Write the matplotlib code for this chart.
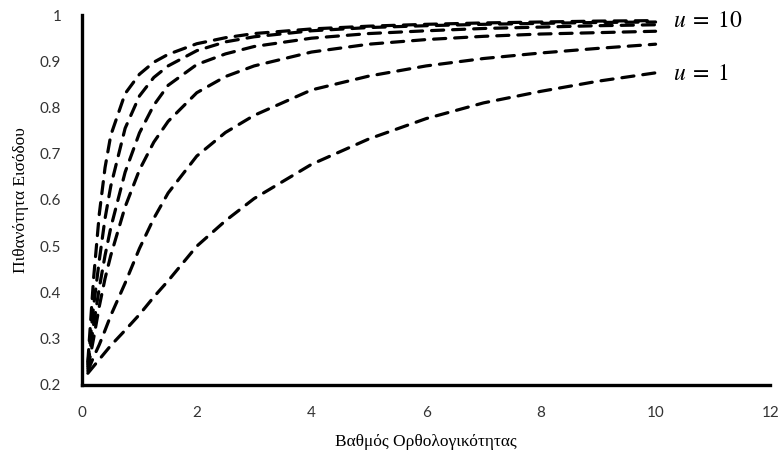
import matplotlib.pyplot as plt

# rationality degree (x) and entry probability for each u
x = [0.1, 0.2, 0.3, 0.4, 0.5, 0.75, 1, 1.25, 1.5, 2, 2.5, 3, 4, 5, 6, 7, 8, 9, 10]

u_1 = [0.225, 0.24, 0.255, 0.27, 0.285, 0.318, 0.352, 0.39, 0.425, 0.5,
       0.555, 0.603, 0.677, 0.732, 0.776, 0.81, 0.835, 0.857, 0.875]
u_2 = [0.23, 0.26, 0.287, 0.318, 0.35, 0.42, 0.495, 0.56, 0.615, 0.695,
       0.746, 0.783, 0.838, 0.868, 0.89, 0.906, 0.918, 0.928, 0.937]
u_4 = [0.235, 0.3, 0.37, 0.43, 0.48, 0.585, 0.665, 0.725, 0.77, 0.832,
       0.867, 0.89, 0.92, 0.937, 0.947, 0.954, 0.959, 0.962, 0.965]
u_6 = [0.24, 0.33, 0.41, 0.48, 0.54, 0.66, 0.745, 0.805, 0.848, 0.893,
       0.916, 0.932, 0.95, 0.96, 0.966, 0.971, 0.974, 0.977, 0.979]
u_8 = [0.245, 0.37, 0.47, 0.56, 0.63, 0.755, 0.825, 0.865, 0.89, 0.923,
       0.942, 0.953, 0.966, 0.973, 0.977, 0.98, 0.982, 0.984, 0.985]
u_10 = [0.25, 0.43, 0.57, 0.67, 0.74, 0.83, 0.872, 0.898, 0.915, 0.938,
        0.951, 0.96, 0.97, 0.976, 0.98, 0.983, 0.985, 0.987, 0.988]

x_ticks = [0, 2, 4, 6, 8, 10, 12]
y_ticks = [0.2, 0.3, 0.4, 0.5, 0.6, 0.7, 0.8, 0.9, 1]
y_tick_labels = ["0.2", "0.3", "0.4", "0.5", "0.6", "0.7", "0.8", "0.9", "1"]

plt.rcParams["mathtext.fontset"] = "stix"

fig = plt.figure(figsize=(7.82, 4.71), dpi=100)
ax = fig.add_axes([0.105, 0.183, 0.880, 0.785])

for series in [u_1, u_2, u_4, u_6, u_8, u_10]:
    ax.plot(x, series, color="black", linewidth=2.3,
            linestyle=(0, (3.8, 2.8)), dash_capstyle="round")

ax.text(10.3, 0.99, r"$u\;=\;10$", fontsize=17, ha="left", va="center")
ax.text(10.3, 0.875, r"$u\;=\;1$", fontsize=17, ha="left", va="center")

ax.set_xlim(0, 12)
ax.set_ylim(0.2, 1)
ax.set_xticks(x_ticks)
ax.set_yticks(y_ticks)
ax.set_yticklabels(y_tick_labels)

for side in ["top", "right"]:
    ax.spines[side].set_visible(False)
for side in ["left", "bottom"]:
    ax.spines[side].set_linewidth(2.4)
    ax.spines[side].set_color("black")

ax.tick_params(length=0, labelsize=11, labelcolor="#333333", pad=15)
for lab in ax.get_xticklabels() + ax.get_yticklabels():
    lab.set_fontfamily("Lato")

ax.set_xlabel("Βαθμός Ορθολογικότητας", fontfamily="Liberation Serif",
              fontsize=12.5, labelpad=10)
ax.set_ylabel("Πιθανότητα Εισόδου", fontfamily="Liberation Serif",
              fontsize=12.5, labelpad=8)

fig.savefig("out.png", dpi=100)
